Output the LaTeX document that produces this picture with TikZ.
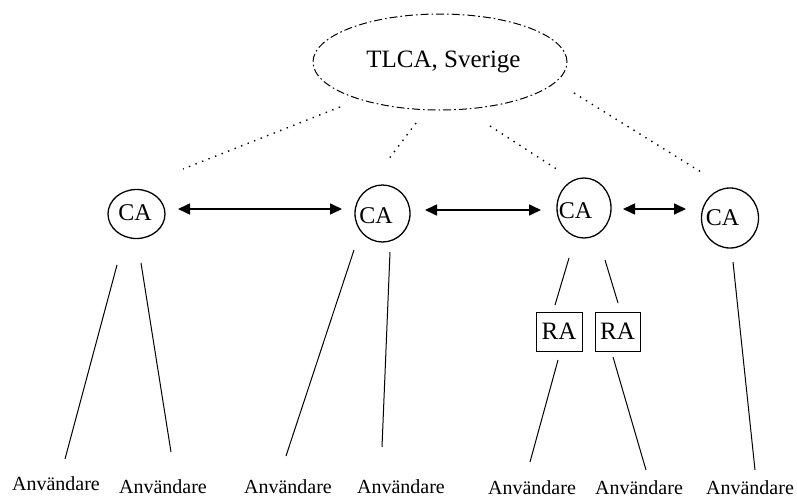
\documentclass[tikz,border=0pt]{standalone}
\usepackage{fontspec}
\setmainfont{Liberation Serif}
\usetikzlibrary{arrows.meta,shapes.geometric}
\begin{document}
\begin{tikzpicture}[x=1pt,y=-1pt,
  caellipse/.style={draw,line width=1.3pt,ellipse,inner sep=0pt},
  ralabel/.style={draw,line width=0.9pt,minimum width=46pt,minimum height=39pt,inner sep=0pt,font=\fontsize{25}{25}\selectfont},
  calabel/.style={anchor=base,inner sep=0pt,font=\fontsize{24}{24}\selectfont},
  user/.style={anchor=base,inner sep=0pt,font=\fontsize{20}{20}\selectfont},
  thin/.style={line width=1pt},
  dots/.style={line width=1.4pt,dash pattern=on 1.4pt off 5.6pt},
  dbl/.style={line width=1.6pt,{Triangle[length=12pt,width=11pt]}-{Triangle[length=12pt,width=11pt]}}
]
\useasboundingbox (0,0) rectangle (797,498);
% top ellipse
\node[draw,ellipse,line width=1pt,minimum width=254pt,minimum height=96pt,inner sep=0pt,
  dash pattern=on 8pt off 3pt on 1.6pt off 3pt] (tlca) at (440,62) {};
\node[inner sep=0pt,font=\fontsize{25}{25}\selectfont] (tlcat) at (443.5,62) {TLCA, Sverige};
% CA circles
\node[caellipse,minimum width=57pt,minimum height=49pt] (ca1) at (136.5,214) {};
\node[caellipse,minimum width=55pt,minimum height=57pt] (ca2) at (382.5,213.5) {};
\node[caellipse,minimum width=54pt,minimum height=60pt] (ca3) at (584,208) {};
\node[caellipse,minimum width=57pt,minimum height=60pt] (ca4) at (730,218) {};
\node[calabel] (t1) at (135,220) {CA};
\node[calabel] (t2) at (376,223) {CA};
\node[calabel] (t3) at (575.5,218) {CA};
\node[calabel] (t4) at (722.5,225) {CA};
% RA boxes
\node[ralabel] (ra1) at (559,331.5) {RA};
\node[ralabel,minimum width=45pt] (ra2) at (617.5,331.5) {RA};
% users
\node[user] (u1) at (56,490) {Användare};
\node[user] (u2) at (163,493) {Användare};
\node[user] (u3) at (288,493) {Användare};
\node[user] (u4) at (401,493) {Användare};
\node[user] (u5) at (532,494) {Användare};
\node[user] (u6) at (639,494) {Användare};
\node[user] (u7) at (750,494) {Användare};
% coordinates for free ends
\coordinate (d1a) at (340,107); \coordinate (d1b) at (183,169);
\coordinate (d2a) at (416,123); \coordinate (d2b) at (388,160);
\coordinate (d3a) at (490,126); \coordinate (d3b) at (558,170);
\coordinate (d4a) at (574,93);  \coordinate (d4b) at (701,172);
\coordinate (a1a) at (178,209); \coordinate (a1b) at (342,209);
\coordinate (a2a) at (425,210); \coordinate (a2b) at (541,210);
\coordinate (a3a) at (623,209); \coordinate (a3b) at (686,209);
\coordinate (l1a) at (117,265); \coordinate (l1b) at (65,459);
\coordinate (l2a) at (141,263); \coordinate (l2b) at (171,452);
\coordinate (l3a) at (354,250); \coordinate (l3b) at (286,456);
\coordinate (l4a) at (390,252); \coordinate (l4b) at (382,447);
\coordinate (l5a) at (569,258); \coordinate (l5b) at (555,305);
\coordinate (l6a) at (605,260); \coordinate (l6b) at (618,303);
\coordinate (l7a) at (558,360); \coordinate (l7b) at (530,462);
\coordinate (l8a) at (613,357); \coordinate (l8b) at (646,470);
\coordinate (l9a) at (733,262); \coordinate (l9b) at (755,470);
% dotted links
\draw[dots] (d1a) -- (d1b);
\draw[dots] (d2a) -- (d2b);
\draw[dots] (d3a) -- (d3b);
\draw[dots] (d4a) -- (d4b);
% arrows
\draw[dbl] (a1a) -- (a1b);
\draw[dbl] (a2a) -- (a2b);
\draw[dbl] (a3a) -- (a3b);
% lines
\foreach \i in {1,...,9} {\draw[thin] (l\i a) -- (l\i b);}
\end{tikzpicture}
\end{document}
